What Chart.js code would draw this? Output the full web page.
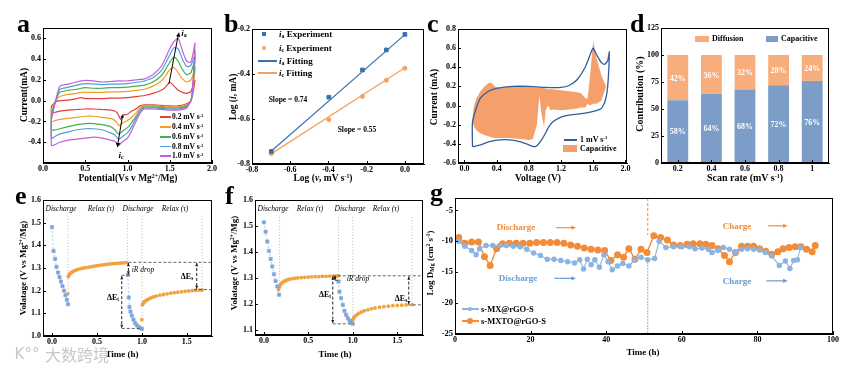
<!DOCTYPE html>
<html>
<head>
<meta charset="utf-8">
<script src="https://cdn.jsdelivr.net/npm/chart.js@4.4.0/dist/chart.umd.min.js"></script>
<style>
  body { margin: 0; background: #fff; width: 865px; height: 369px; position: relative; overflow: hidden;
         font-family: "Liberation Serif", serif; font-weight: bold; color: #000; }
  canvas { position: absolute; }
  .t { position: absolute; white-space: nowrap; line-height: 1; }
  .t sup { font-size: 0.6em; vertical-align: 0.55em; line-height: 0; }
  .t sub { font-size: 0.65em; vertical-align: -0.25em; line-height: 0; }
  .m { position: absolute; }
</style>
</head>
<body>
<script>
"use strict";

// ---- a: CV curves, 0.2 .. 1.0 mV/s ----
const aUpV = [0.1, 0.15, 0.2, 0.3, 0.4, 0.45, 0.5, 0.6, 0.7, 0.8, 0.9, 1.0, 1.1, 1.2, 1.3, 1.4, 1.45, 1.5, 1.55, 1.6, 1.65, 1.7, 1.75, 1.8];
const up02 = [-0.05, -0.01, 0.0, 0.005, 0.02, 0.03, 0.02, 0.02, 0.02, 0.025, 0.025, 0.03, 0.04, 0.05, 0.07, 0.1, 0.13, 0.18, 0.14, 0.1, 0.08, 0.07, 0.09, 0.2];
const up04 = [-0.08, 0.0, 0.04, 0.06, 0.07, 0.08, 0.08, 0.08, 0.08, 0.085, 0.085, 0.09, 0.1, 0.11, 0.14, 0.19, 0.24, 0.3, 0.32, 0.27, 0.21, 0.18, 0.2, 0.3];
const up06 = [-0.12, 0.0, 0.08, 0.1, 0.11, 0.12, 0.125, 0.12, 0.12, 0.125, 0.125, 0.13, 0.14, 0.15, 0.18, 0.24, 0.3, 0.37, 0.42, 0.38, 0.3, 0.25, 0.27, 0.4];
const up08 = [-0.15, 0.0, 0.11, 0.13, 0.15, 0.16, 0.165, 0.16, 0.155, 0.16, 0.16, 0.165, 0.175, 0.19, 0.22, 0.29, 0.36, 0.44, 0.51, 0.5, 0.4, 0.33, 0.34, 0.45];
const up10 = [-0.18, 0.0, 0.14, 0.16, 0.18, 0.19, 0.195, 0.19, 0.18, 0.185, 0.19, 0.19, 0.2, 0.21, 0.25, 0.33, 0.41, 0.5, 0.57, 0.6, 0.48, 0.38, 0.37, 0.56];
const aLoV = [1.8, 1.77, 1.75, 1.7, 1.6, 1.5, 1.4, 1.3, 1.2, 1.15, 1.1, 1.05, 1.0, 0.95, 0.92, 0.9, 0.88, 0.85, 0.8, 0.7, 0.6, 0.5, 0.4, 0.3, 0.2, 0.15, 0.1];
const lo02 = [0.2, 0.05, 0.0, -0.03, -0.05, -0.05, -0.045, -0.04, -0.04, -0.05, -0.08, -0.1, -0.13, -0.14, -0.18, -0.15, -0.12, -0.1, -0.09, -0.085, -0.08, -0.08, -0.085, -0.09, -0.1, -0.11, -0.12];
const lo04 = [0.3, 0.08, 0.0, -0.04, -0.06, -0.06, -0.055, -0.05, -0.05, -0.07, -0.12, -0.16, -0.19, -0.21, -0.23, -0.24, -0.22, -0.19, -0.17, -0.16, -0.15, -0.15, -0.16, -0.17, -0.18, -0.19, -0.2];
const lo06 = [0.4, 0.1, 0.0, -0.05, -0.07, -0.07, -0.065, -0.06, -0.06, -0.09, -0.15, -0.21, -0.26, -0.29, -0.31, -0.32, -0.31, -0.28, -0.25, -0.23, -0.22, -0.22, -0.23, -0.25, -0.27, -0.28, -0.28];
const lo08 = [0.45, 0.1, 0.0, -0.06, -0.08, -0.08, -0.075, -0.07, -0.07, -0.1, -0.17, -0.25, -0.31, -0.34, -0.36, -0.37, -0.36, -0.33, -0.31, -0.28, -0.27, -0.27, -0.28, -0.3, -0.32, -0.34, -0.36];
const lo10 = [0.56, 0.12, 0.0, -0.07, -0.09, -0.09, -0.085, -0.08, -0.08, -0.12, -0.2, -0.29, -0.36, -0.39, -0.41, -0.43, -0.42, -0.39, -0.38, -0.36, -0.35, -0.36, -0.37, -0.38, -0.4, -0.42, -0.43];
const rateLabels = ["0.2", "0.4", "0.6", "0.8", "1.0"];

// ---- b: log i vs log v ----
const bLogV = [-0.699, -0.398, -0.222, -0.097, 0];
const bIa = [-0.744, -0.503, -0.382, -0.293, -0.224];
const bIc = [-0.754, -0.603, -0.5, -0.428, -0.374];
const bFitX = [-0.7, 0];
const bIaFit = [-0.743, -0.225];
const bIcFit = [-0.755, -0.372];

// ---- c: CV at 1 mV/s and capacitive part ----
const cVolt = [0.1, 0.1, 0.15, 0.2, 0.3, 0.4, 0.6, 0.8, 1.0, 1.2, 1.3, 1.4, 1.5, 1.58, 1.6, 1.65, 1.7, 1.74, 1.78, 1.8, 1.78, 1.75, 1.7, 1.6, 1.5, 1.4, 1.3, 1.2, 1.1, 1.05, 1.0, 0.95, 0.9, 0.87, 0.8, 0.7, 0.6, 0.5, 0.4, 0.3, 0.2, 0.1];
const cCurr = [-0.43, -0.17, -0.02, 0.08, 0.15, 0.18, 0.2, 0.2, 0.19, 0.19, 0.21, 0.27, 0.4, 0.57, 0.6, 0.52, 0.45, 0.43, 0.47, 0.56, 0.2, 0.05, -0.03, -0.06, -0.08, -0.09, -0.1, -0.12, -0.17, -0.22, -0.3, -0.37, -0.42, -0.43, -0.41, -0.38, -0.36, -0.355, -0.36, -0.38, -0.41, -0.43];
const cCapV = [0.1, 0.12, 0.15, 0.2, 0.25, 0.3, 0.33, 0.38, 0.45, 0.55, 0.7, 0.8, 0.85, 0.9, 0.93, 0.96, 0.99, 1.01, 1.04, 1.07, 1.1, 1.2, 1.3, 1.4, 1.45, 1.5, 1.53, 1.56, 1.6, 1.64, 1.7, 1.76];
const cCapHi = [-0.1, 0.0, 0.08, 0.15, 0.2, 0.235, 0.24, 0.2, 0.18, 0.2, 0.2, 0.2, 0.19, 0.19, 0.19, 0.19, 0.18, 0.18, 0.17, 0.17, 0.17, 0.16, 0.15, 0.14, 0.13, 0.08, 0.07, 0.3, 0.68, 0.5, 0.32, 0.2];
const cCapLo = [-0.17, -0.22, -0.26, -0.29, -0.31, -0.32, -0.33, -0.34, -0.34, -0.34, -0.35, -0.36, -0.35, -0.2, 0.1, -0.1, -0.22, -0.05, 0.0, -0.05, -0.04, -0.05, -0.04, -0.03, -0.02, -0.02, 0.02, 0.0, 0.02, 0.02, 0.05, 0.2];

// ---- d: contribution ----
const dRates = ["0.2", "0.4", "0.6", "0.8", "1"];
const dCap = [58, 64, 68, 72, 76];
const dDif = [42, 36, 32, 28, 24];

// ---- e: GITT s-MX@rGO-S ----
const eT1 = [0, 0.017, 0.034, 0.05, 0.067, 0.084, 0.1, 0.117, 0.134, 0.15, 0.165, 0.178];
const eV1 = [1.48, 1.375, 1.34, 1.305, 1.28, 1.26, 1.24, 1.22, 1.2, 1.18, 1.16, 1.14];
const eTr1 = [0.176, 0.182, 0.188, 0.195, 0.205, 0.215, 0.23, 0.25, 0.27, 0.29, 0.32, 0.35, 0.38, 0.41, 0.44, 0.47, 0.5, 0.53, 0.56, 0.59, 0.62, 0.65, 0.68, 0.71, 0.74, 0.77, 0.8, 0.83];
const eVr1 = [1.186, 1.262, 1.268, 1.273, 1.277, 1.28, 1.284, 1.288, 1.291, 1.294, 1.297, 1.3, 1.302, 1.304, 1.306, 1.308, 1.31, 1.312, 1.314, 1.315, 1.317, 1.318, 1.319, 1.32, 1.321, 1.322, 1.323, 1.324];
const eT2 = [0.843, 0.854, 0.862, 0.873, 0.888, 0.907, 0.925, 0.944, 0.963, 0.981, 1.0];
const eV2 = [1.27, 1.17, 1.128, 1.108, 1.09, 1.072, 1.057, 1.047, 1.04, 1.035, 1.032];
const eTr2 = [1.0, 1.006, 1.012, 1.02, 1.03, 1.045, 1.06, 1.08, 1.1, 1.13, 1.16, 1.2, 1.24, 1.28, 1.32, 1.36, 1.4, 1.44, 1.48, 1.52, 1.56, 1.6, 1.64, 1.67];
const eVr2 = [1.072, 1.138, 1.143, 1.147, 1.151, 1.156, 1.16, 1.164, 1.168, 1.172, 1.176, 1.18, 1.183, 1.186, 1.189, 1.191, 1.193, 1.195, 1.197, 1.199, 1.2, 1.201, 1.202, 1.203];

// ---- f: GITT s-MXTO@rGO-S ----
const fT1 = [0, 0.019, 0.038, 0.057, 0.076, 0.094, 0.113, 0.132, 0.151, 0.17];
const fV1 = [1.514, 1.478, 1.44, 1.404, 1.373, 1.344, 1.314, 1.288, 1.267, 1.235];
const fTr1 = [0.165, 0.172, 0.18, 0.19, 0.2, 0.215, 0.23, 0.25, 0.27, 0.29, 0.32, 0.35, 0.38, 0.42, 0.46, 0.5, 0.54, 0.58, 0.62, 0.66, 0.7, 0.74, 0.78, 0.82, 0.84];
const fVr1 = [1.254, 1.264, 1.271, 1.276, 1.28, 1.284, 1.287, 1.29, 1.293, 1.295, 1.297, 1.299, 1.3, 1.301, 1.302, 1.303, 1.304, 1.305, 1.305, 1.306, 1.306, 1.307, 1.307, 1.308, 1.308];
const fT2 = [0.839, 0.85, 0.869, 0.888, 0.906, 0.925, 0.944, 0.963, 0.981, 1.0];
const fV2 = [1.286, 1.247, 1.222, 1.196, 1.173, 1.158, 1.145, 1.135, 1.128, 1.123];
const fTr2 = [1.0, 1.008, 1.016, 1.03, 1.05, 1.07, 1.1, 1.13, 1.17, 1.21, 1.25, 1.3, 1.35, 1.4, 1.45, 1.5, 1.55, 1.6, 1.67];
const fVr2 = [1.138, 1.144, 1.149, 1.154, 1.159, 1.164, 1.169, 1.173, 1.177, 1.181, 1.184, 1.187, 1.189, 1.191, 1.193, 1.194, 1.195, 1.196, 1.197];

// ---- g: diffusion coefficient ----
const gTimeMX = [1, 2.6, 4.4, 5.6, 6.5, 8.2, 10, 11.8, 13.6, 15.4, 17.2, 19, 20.8, 22.6, 24.4, 26.2, 28, 29.8, 31.6, 33, 34, 35, 36, 37, 38.2, 39.4, 40.5, 41.6, 43, 44.4, 46, 47.6, 49.2, 51, 52.8, 54, 55.8, 57.8, 60, 62, 63.5, 65.3, 67, 68, 69.5, 71, 72.6, 74.2, 75.8, 77.4, 79, 80.6, 82.2, 83.8, 85.8, 87.4, 88.6, 89.6, 90.6, 91.4];
const gLogMX = [-10.0, -10.8, -11.5, -12.2, -11.2, -10.7, -10.7, -10.7, -10.7, -10.8, -10.9, -11.3, -11.9, -12.3, -12.9, -12.9, -13.1, -13.3, -13.5, -13.0, -14.5, -12.9, -13.8, -13.0, -14.2, -12.2, -13.3, -14.6, -14.0, -13.6, -14.0, -13.0, -12.6, -13.0, -12.8, -10.0, -11.0, -10.9, -10.9, -10.9, -11.2, -11.1, -11.3, -11.8, -11.5, -11.0, -11.3, -11.8, -11.3, -11.2, -11.3, -11.4, -11.8, -12.4, -13.9, -13.2, -14.4, -13.1, -13.0, -11.0];
const gTimeMXTO = [1, 2.6, 4.4, 6.2, 7.8, 9.3, 11, 12.6, 14.4, 16.2, 18, 19.8, 21.6, 23.4, 25.2, 27, 28.8, 30.6, 32.4, 34.2, 36, 37.8, 39.6, 41.2, 43, 44.6, 46, 47.6, 49.2, 50.8, 52.6, 54.4, 56.2, 57.8, 59.6, 61.4, 63, 64.8, 66.4, 68, 69.6, 71.3, 72.6, 74.2, 75.8, 77.4, 79, 80.6, 82.2, 83.8, 85.4, 86.8, 88.4, 90, 91.5, 93, 94.5, 95.3];
const gLogMXTO = [-9.4, -10.3, -10.1, -10.1, -12.5, -13.9, -11.2, -10.4, -10.3, -10.3, -10.3, -10.3, -10.2, -10.2, -10.2, -10.2, -10.3, -10.6, -10.8, -11.1, -11.3, -11.4, -11.5, -13.1, -12.2, -12.6, -11.2, -12.9, -11.3, -11.8, -9.1, -9.4, -9.8, -10.6, -10.7, -10.5, -10.4, -10.4, -10.5, -10.7, -11.2, -12.3, -13.3, -11.8, -10.8, -10.8, -10.8, -11.2, -11.6, -12.1, -11.7, -11.2, -11.0, -10.9, -10.9, -11.3, -11.7, -10.7];

// colours
const aColors = ["#e2403f", "#f59b26", "#45b04a", "#4f9fe0", "#c262d4"];
const BLUE = "#3a70b0", ORANGE = "#f5a05c";
const DBLUE = "#7b9dc7", DORANGE = "#f7ae7c";
const EBLUE = "#7ea6d8", EORANGE = "#f3a23f";
const GBLUE = "#8ab4e2", GORANGE = "#f28c3a";

const FONT = "Liberation Serif";
const YW = 40, XH = 26, PT = 8, PR = 12;

function xy(xs, ys) {
    return xs.map((x, i) => ({ x: x, y: ys[i] }));
}

// box round the plot plus short inward ticks
const frame = {
    id: "frame",
    afterDraw(chart) {
        const { ctx, chartArea: a } = chart;
        ctx.save();
        ctx.strokeStyle = "#000";
        ctx.lineWidth = 1;
        ctx.strokeRect(Math.round(a.left) + 0.5, Math.round(a.top) + 0.5, Math.round(a.right - a.left) - 1, Math.round(a.bottom - a.top) - 1);
        const xs = chart.scales.x, ys = chart.scales.y;
        ctx.beginPath();
        xs.ticks.forEach((t, i) => {
            const px = Math.round(xs.getPixelForTick(i)) + 0.5;
            ctx.moveTo(px, a.bottom);
            ctx.lineTo(px, a.bottom - 3);
        });
        ys.ticks.forEach((t, i) => {
            const py = Math.round(ys.getPixelForTick(i)) + 0.5;
            ctx.moveTo(a.left, py);
            ctx.lineTo(a.left + 3, py);
        });
        ctx.stroke();
        ctx.restore();
    },
};

function ann(fn) {
    return { id: "ann", afterDatasetsDraw(chart) { chart.ctx.save(); fn(chart, chart.ctx); chart.ctx.restore(); } };
}
function P(ch, x, y) {
    return [ch.scales.x.getPixelForValue(x), ch.scales.y.getPixelForValue(y)];
}
function seg(ch, ctx, x1, y1, x2, y2, color, w, dash) {
    const a = P(ch, x1, y1), b = P(ch, x2, y2);
    ctx.strokeStyle = color;
    ctx.lineWidth = w;
    ctx.setLineDash(dash || []);
    ctx.beginPath();
    ctx.moveTo(a[0], a[1]);
    ctx.lineTo(b[0], b[1]);
    ctx.stroke();
    ctx.setLineDash([]);
}
function tip(ch, ctx, x1, y1, x2, y2, color, size) {
    const a = P(ch, x1, y1), b = P(ch, x2, y2);
    const ang = Math.atan2(b[1] - a[1], b[0] - a[0]);
    ctx.fillStyle = color;
    ctx.beginPath();
    ctx.moveTo(b[0], b[1]);
    ctx.lineTo(b[0] - size * Math.cos(ang - 0.45), b[1] - size * Math.sin(ang - 0.45));
    ctx.lineTo(b[0] - size * Math.cos(ang + 0.45), b[1] - size * Math.sin(ang + 0.45));
    ctx.closePath();
    ctx.fill();
}

function linAxis(min, max, step, digits, isY, size) {
    return {
        type: "linear", min: min, max: max,
        ticks: {
            stepSize: step, includeBounds: false, color: "#000", padding: isY ? 2 : 1, maxRotation: 0,
            font: { family: FONT, weight: "bold", size: size || 8 },
            callback: (v) => Number(v).toFixed(digits),
        },
        grid: { drawOnChartArea: false, tickLength: 0, color: "#000" },
        border: { color: "#000" },
        afterFit: (s) => { if (isY) s.width = YW; else s.height = XH; },
    };
}

function makeChart(box, config, extra) {
    const [L, T, R, B] = box;
    const w = R - L + YW + PR, h = B - T + PT + XH;
    const cv = document.createElement("canvas");
    cv.width = w;
    cv.height = h;
    cv.style.cssText = `left:${L - YW}px;top:${T - PT}px;width:${w}px;height:${h}px`;
    document.body.appendChild(cv);
    config.options.responsive = false;
    config.options.animation = false;
    config.options.devicePixelRatio = 1;
    config.options.layout = { padding: { top: PT, right: PR, left: 0, bottom: 0 } };
    config.options.plugins = { legend: { display: false }, tooltip: { enabled: false } };
    config.plugins = [frame].concat(extra || []);
    return new Chart(cv, config);
}

// ---------- a ----------
function loop(up, lo, color) {
    const pts = xy(aUpV, up).concat(xy(aLoV, lo));
    pts.push(pts[0]);
    return { data: pts, showLine: true, borderColor: color, borderWidth: 1.2, pointRadius: 0, tension: 0.2 };
}
makeChart([43, 28, 212, 163], {
    type: "scatter",
    data: { datasets: [loop(up10, lo10, aColors[4]), loop(up08, lo08, aColors[3]), loop(up06, lo06, aColors[2]), loop(up04, lo04, aColors[1]), loop(up02, lo02, aColors[0])] },
    options: { scales: { x: linAxis(0, 2, 0.5, 1), y: linAxis(-0.6, 0.7, 0.2, 1, true) } },
}, [ann((ch, ctx) => {
    seg(ch, ctx, 1.49, 0.16, 1.6, 0.63, "#000", 1);
    tip(ch, ctx, 1.49, 0.16, 1.61, 0.66, "#000", 5);
    seg(ch, ctx, 0.94, -0.15, 0.885, -0.42, "#000", 1);
    tip(ch, ctx, 0.94, -0.15, 0.88, -0.45, "#000", 5);
    tip(ch, ctx, 0.9, -0.3, 0.945, -0.13, "#000", 4);
})]);

// ---------- b ----------
makeChart([252, 29, 424, 164], {
    type: "scatter",
    data: { datasets: [
        { data: xy(bLogV, bIa), pointStyle: "rect", pointRadius: 2.6, backgroundColor: BLUE, borderColor: BLUE },
        { data: xy(bLogV, bIc), pointStyle: "circle", pointRadius: 2, backgroundColor: ORANGE, borderColor: ORANGE },
        { data: xy(bFitX, bIaFit), showLine: true, pointRadius: 0, borderColor: BLUE, borderWidth: 1.2 },
        { data: xy(bFitX, bIcFit), showLine: true, pointRadius: 0, borderColor: ORANGE, borderWidth: 1.2 },
    ] },
    options: { scales: { x: linAxis(-0.8, 0.1, 0.2, 1), y: linAxis(-0.8, -0.2, 0.2, 1, true) } },
});

// ---------- c ----------
makeChart([458, 29, 627, 163], {
    type: "scatter",
    data: { datasets: [
        { data: xy(cVolt, cCurr), showLine: true, pointRadius: 0, borderColor: "#2f5f9a", borderWidth: 1.3, tension: 0.2 },
        { data: xy(cCapV, cCapHi), showLine: true, pointRadius: 0, borderWidth: 0, backgroundColor: "#f5a06a", fill: "+1" },
        { data: xy(cCapV, cCapLo), showLine: true, pointRadius: 0, borderWidth: 0, borderColor: "rgba(0,0,0,0)" },
    ] },
    options: { scales: { x: linAxis(-0.08, 2.02, 0.4, 1), y: linAxis(-0.6, 0.8, 0.2, 1, true) } },
});

// ---------- d ----------
const barLabels = {
    id: "barLabels",
    afterDatasetsDraw(chart) {
        const ctx = chart.ctx;
        ctx.save();
        ctx.fillStyle = "#fff";
        ctx.font = `bold 8px "${FONT}"`;
        ctx.textAlign = "center";
        ctx.textBaseline = "middle";
        chart.data.datasets.forEach((ds, i) => {
            chart.getDatasetMeta(i).data.forEach((bar, j) => {
                ctx.fillText(ds.data[j] + "%", bar.x, (bar.y + bar.base) / 2 + 1);
            });
        });
        ctx.restore();
    },
};
const dY = linAxis(0, 125, 25, 0, true);
dY.stacked = true;
makeChart([661, 28, 829, 163], {
    type: "bar",
    data: { labels: dRates, datasets: [
        { label: "Capacitive", data: dCap, backgroundColor: DBLUE, barPercentage: 0.62, categoryPercentage: 1 },
        { label: "Diffusion", data: dDif, backgroundColor: DORANGE, barPercentage: 0.62, categoryPercentage: 1 },
    ] },
    options: { scales: {
        x: { type: "category", stacked: true,
             ticks: { color: "#000", padding: 1, font: { family: FONT, weight: "bold", size: 8 } },
             grid: { drawOnChartArea: false, offset: false, tickLength: 0, color: "#000" },
             border: { color: "#000" }, afterFit: (s) => { s.height = XH; } },
        y: dY,
    } },
}, [barLabels]);

// ---------- e ----------
function gittSets(t1, v1, r1t, r1v, t2, v2, r2t, r2v) {
    const blue = (t, v) => ({ data: xy(t, v), showLine: true, pointStyle: "rect", pointRadius: 2.3, backgroundColor: EBLUE, borderColor: EBLUE, borderWidth: 0.6, borderDash: [2, 2] });
    const orange = (t, v) => ({ data: xy(t, v), pointStyle: "circle", pointRadius: 1.9, backgroundColor: EORANGE, borderColor: EORANGE, borderWidth: 0 });
    return [blue(t1, v1), blue(t2, v2), orange(r1t, r1v), orange(r2t, r2v)];
}
function dbl(ch, ctx, x, y1, y2) {
    seg(ch, ctx, x, y1, x, y2, "#222", 1, [3, 2]);
    tip(ch, ctx, x, y2, x, y1, "#222", 3.5);
    tip(ch, ctx, x, y1, x, y2, "#222", 3.5);
}
makeChart([43, 200, 212, 336], {
    type: "scatter",
    data: { datasets: gittSets(eT1, eV1, eTr1, eVr1, eT2, eV2, eTr2, eVr2) },
    options: { scales: { x: linAxis(-0.1, 1.78, 0.5, 1), y: linAxis(1.0, 1.6, 0.1, 1, true) } },
}, [ann((ch, ctx) => {
    [[0.178, 1.19], [0.84, 1.33], [1.0, 1.075], [1.67, 1.21]].forEach(([t, b]) => seg(ch, ctx, t, 1.53, t, b, "#aaa", 0.8, [1, 2]));
    seg(ch, ctx, 0.85, 1.325, 1.78, 1.325, "#555", 0.9, [3, 2]);
    seg(ch, ctx, 0.776, 1.268, 0.87, 1.268, "#555", 0.9, [3, 2]);
    seg(ch, ctx, 0.776, 1.033, 1.0, 1.033, "#555", 0.9, [3, 2]);
    seg(ch, ctx, 1.58, 1.205, 1.78, 1.205, "#555", 0.9, [3, 2]);
    dbl(ch, ctx, 0.776, 1.264, 1.036);
    dbl(ch, ctx, 1.61, 1.322, 1.208);
    dbl(ch, ctx, 0.85, 1.322, 1.272);
})]);

// ---------- f ----------
makeChart([255, 200, 423, 335], {
    type: "scatter",
    data: { datasets: gittSets(fT1, fV1, fTr1, fVr1, fT2, fV2, fTr2, fVr2) },
    options: { scales: { x: linAxis(-0.1, 1.79, 0.5, 1), y: linAxis(1.08, 1.6, 0.1, 1, true) } },
}, [ann((ch, ctx) => {
    [[0.176, 1.26], [0.84, 1.31], [1.0, 1.14], [1.667, 1.2]].forEach(([t, b]) => seg(ch, ctx, t, 1.535, t, b, "#aaa", 0.8, [1, 2]));
    seg(ch, ctx, 0.775, 1.308, 1.79, 1.308, "#555", 0.9, [3, 2]);
    seg(ch, ctx, 0.775, 1.123, 1.0, 1.123, "#555", 0.9, [3, 2]);
    seg(ch, ctx, 1.62, 1.196, 1.79, 1.196, "#555", 0.9, [3, 2]);
    seg(ch, ctx, 0.8, 1.29, 0.86, 1.29, "#555", 0.9, [3, 2]);
    dbl(ch, ctx, 0.775, 1.305, 1.126);
    dbl(ch, ctx, 1.63, 1.305, 1.199);
    dbl(ch, ctx, 0.8, 1.306, 1.292);
})]);

// ---------- g ----------
makeChart([455, 198, 833, 334], {
    type: "scatter",
    data: { datasets: [
        { data: xy(gTimeMX, gLogMX), showLine: true, pointRadius: 2.2, backgroundColor: GBLUE, borderColor: GBLUE, borderWidth: 1.1 },
        { data: xy(gTimeMXTO, gLogMXTO), showLine: true, pointRadius: 2.8, backgroundColor: GORANGE, borderColor: GORANGE, borderWidth: 1.4 },
    ] },
    options: { scales: { x: linAxis(0, 100, 20, 0), y: linAxis(-25, -3, 5, 0, true, 8.5) } },
}, [ann((ch, ctx) => {
    seg(ch, ctx, 51, -3, 51, -9, GORANGE, 1, [3, 2]);
    seg(ch, ctx, 51, -12.9, 51, -25, "#6c9bd2", 1, [1.5, 1.5]);
    [[26.8, 32, -7.8, GORANGE], [26.3, 32, -16.0, "#6c9bd2"], [82.8, 88, -7.5, GORANGE], [82.4, 88, -16.4, "#6c9bd2"]].forEach(([x1, x2, y, c]) => {
        seg(ch, ctx, x1, y, x2 - 0.5, y, c, 1.2);
        tip(ch, ctx, x1, y, x2, y, c, 5);
    });
})]);

// ---------- texts ----------
function txt(html, x, y, size, o) {
    o = o || {};
    const d = document.createElement("div");
    d.className = "t";
    d.innerHTML = html;
    d.style.left = x + "px";
    d.style.top = y + "px";
    d.style.fontSize = size + "px";
    if (o.color) d.style.color = o.color;
    if (o.italic) d.style.fontStyle = "italic";
    if (o.normal) d.style.fontWeight = "normal";
    if (o.family) d.style.fontFamily = o.family;
    const ax = o.left ? "0" : "-50%";
    d.style.transform = `translate(${ax},-50%)` + (o.rot ? " rotate(-90deg)" : "");
    document.body.appendChild(d);
}
function mark(kind, color, x, y, w, h) {
    const d = document.createElement("div");
    d.className = "m";
    d.style.left = (x - w / 2) + "px";
    d.style.top = (y - h / 2) + "px";
    d.style.width = w + "px";
    d.style.height = h + "px";
    d.style.background = color;
    if (kind === "circ") d.style.borderRadius = "50%";
    document.body.appendChild(d);
}

// panel letters
[["a", 17, 24], ["b", 224, 24], ["c", 427, 24], ["d", 630, 24], ["e", 15, 196], ["f", 225, 196], ["g", 430, 193]].forEach(([s, x, y]) => txt(s, x, y, 26, { left: true }));

// a
txt("Current(mA)", 25, 95, 9.5, { rot: true });
txt("Potential(Vs v Mg<sup>2+</sup>/Mg)", 128, 179, 9.5);
[117, 127, 137, 146.5, 156].forEach((y, i) => {
    mark("line", aColors[i], 165, y, 11, 1.5);
    txt(rateLabels[i] + " mV s<sup>-1</sup>", 172, y, 7.5, { left: true });
});
txt("<i>i</i><sub>a</sub>", 184, 33, 9);
txt("<i>i</i><sub>c</sub>", 121, 155, 9);

// b
txt("Log (<i>i</i>, mA)", 234, 97, 9.5, { rot: true });
txt("Log (<i>v</i>, mV s<sup>-1</sup>)", 323, 179, 9.5);
mark("sq", BLUE, 264, 34, 4, 4);
mark("circ", ORANGE, 264, 47.5, 4, 4);
mark("line", BLUE, 267, 61, 19, 1.3);
mark("line", ORANGE, 267, 73, 19, 1.3);
txt("<i>i</i><sub>a</sub> Experiment", 279, 34, 9, { left: true });
txt("<i>i</i><sub>c</sub> Experiment", 279, 47.5, 9, { left: true });
txt("<i>i</i><sub>a</sub> Fitting", 279, 61, 9, { left: true });
txt("<i>i</i><sub>c</sub> Fitting", 279, 73, 9, { left: true });
txt("Slope = 0.74", 288, 100, 7.5);
txt("Slope = 0.55", 357, 130, 7.5);

// c
txt("Current (mA)", 435, 97, 9.5, { rot: true });
txt("Voltage (V)", 538, 179, 9.5);
mark("line", "#2f5f9a", 570, 140, 13, 1.4);
mark("box", "#f5a06a", 570, 148.5, 14, 7);
txt("1 mV s<sup>-1</sup>", 580, 140, 8, { left: true });
txt("Capacitive", 580, 148.5, 8, { left: true });

// d
txt("Contribution (%)", 640, 94, 10, { rot: true });
txt("Scan rate (mV s<sup>-1</sup>)", 745, 178, 10);
mark("box", DORANGE, 702, 39, 14, 6);
txt("Diffusion", 712, 39, 8, { left: true });
mark("box", DBLUE, 772, 39, 12, 6);
txt("Capacitive", 781, 39, 8, { left: true });

// e
txt("Volatage (V vs Mg<sup>2+</sup>/Mg)", 23, 268, 9, { rot: true });
txt("Time (h)", 122, 354, 9);
[["Discharge", 61], ["Relax (τ)", 101], ["Discharge", 138], ["Relax (τ)", 175]].forEach(([s, x]) => txt(s, x, 209, 7.5, { italic: true, normal: true }));
txt("iR drop", 143, 270, 7.5, { italic: true, normal: true });
txt("ΔE<sub>t</sub>", 113, 298, 8);
txt("ΔE<sub>s</sub>", 187, 277, 8);

// f
txt("Volatage (V vs Mg<sup>2+</sup>/Mg)", 234, 263, 9, { rot: true });
txt("Time (h)", 335, 354, 9);
[["Discharge", 273], ["Relax (τ)", 310], ["Discharge", 350], ["Relax (τ)", 386]].forEach(([s, x]) => txt(s, x, 209, 7.5, { italic: true, normal: true }));
txt("iR drop", 358, 279, 7.5, { italic: true, normal: true });
txt("ΔE<sub>t</sub>", 325, 295, 8);
txt("ΔE<sub>s</sub>", 401, 299, 8);

// g
txt("Log D<sub>Mg</sub> (cm<sup>2</sup> s<sup>-1</sup>)", 430, 263, 9, { rot: true });
txt("Time (h)", 643, 352, 9);
txt("Discharge", 516, 227, 9, { color: GORANGE });
txt("Discharge", 518, 278, 9, { color: "#6c9bd2" });
txt("Charge", 737, 226, 9, { color: GORANGE });
txt("Charge", 737, 281, 9, { color: "#6c9bd2" });
mark("line", GBLUE, 470, 309, 17, 1.2);
mark("circ", GBLUE, 470, 309, 4.5, 4.5);
txt("s-MX@rGO-S", 481, 309, 8.5, { left: true });
mark("line", GORANGE, 470, 321, 17, 1.4);
mark("circ", GORANGE, 470, 321, 5.5, 5.5);
txt("s-MXTO@rGO-S", 481, 321, 8.5, { left: true });

// watermark
txt("K°°", 27, 354, 15, { color: "#c8c8c8", normal: true, family: "DejaVu Sans" });
txt("大数跨境", 77, 354, 16, { color: "#c8c8c8", normal: true, family: "Noto Sans CJK SC" });
</script>
</body>
</html>
